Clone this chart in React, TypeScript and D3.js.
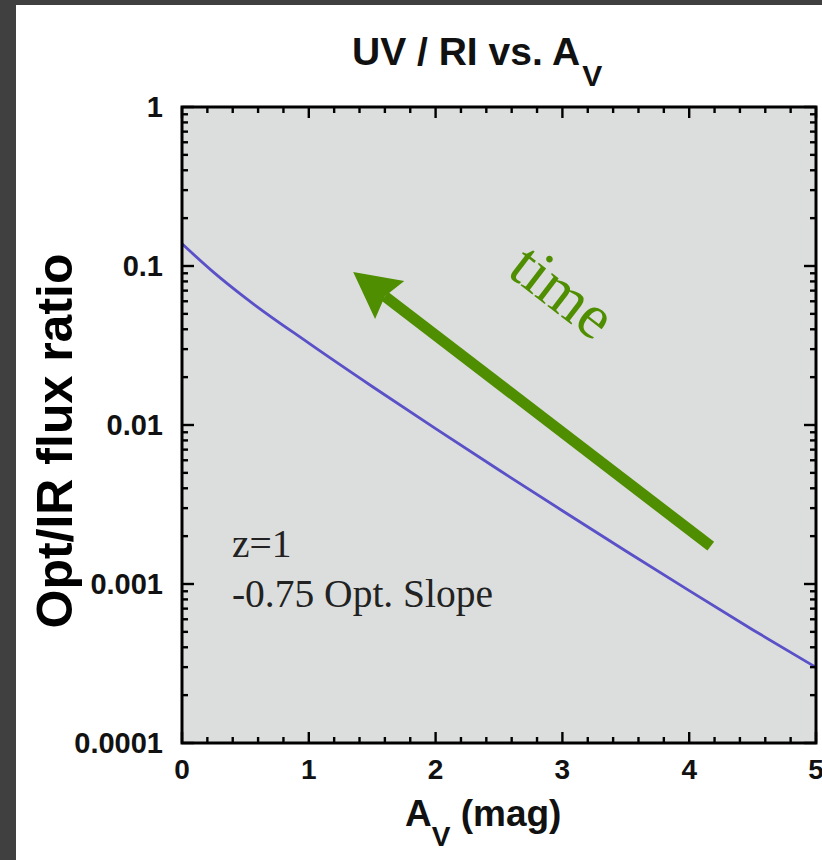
import React from "react";
import * as d3 from "d3";

// Extinction curve: optical/IR flux ratio against A_V (z = 1, -0.75 optical slope)
const avValues = [0, 0.25, 0.5, 1, 1.5, 2, 2.5, 3, 3.5, 4, 4.5, 5];
const fluxRatio = [0.138, 0.0912, 0.063, 0.0327, 0.01746, 0.00948, 0.00521, 0.00289, 0.001614, 0.000908, 0.000516, 0.000299];

const xTickValues = [0, 1, 2, 3, 4, 5];
const yTickValues = [0.0001, 0.001, 0.01, 0.1, 1];
const yTickLabels = ["0.0001", "0.001", "0.01", "0.1", "1"];

// "time" arrow, in data units: from tail to head
const arrowTail = { av: 4.17, ratio: 0.00173 };
const arrowHead = { av: 1.35, ratio: 0.0917 };

const noteLines = ["z=1", "-0.75 Opt. Slope"];

const W = 822;
const H = 860;
const M = { left: 182, top: 107, right: 816, bottom: 743 };

const SANS = "'Liberation Sans', Arial, Helvetica, sans-serif";
const SERIF = "'Liberation Serif', 'Times New Roman', serif";
const GREEN = "#4f8e00";

export default function App() {
  const x = d3.scaleLinear().domain([0, 5]).range([M.left, M.right]);
  const y = d3.scaleLog().domain([0.0001, 1]).range([M.bottom, M.top]);

  const line = d3
    .line<number>()
    .x((_, i) => x(avValues[i]))
    .y((d) => y(d))
    .curve(d3.curveMonotoneX);

  const xMinor = d3.range(0, 5.0001, 0.2).map((v) => +v.toFixed(2));
  const yMinor: number[] = [];
  for (let e = -4; e < 0; e++) {
    for (let m = 2; m <= 9; m++) yMinor.push(m * Math.pow(10, e));
  }

  // arrow geometry
  const tx = x(arrowTail.av), ty = y(arrowTail.ratio);
  const hx = x(arrowHead.av), hy = y(arrowHead.ratio);
  const ang = Math.atan2(hy - ty, hx - tx);
  const ux = Math.cos(ang), uy = Math.sin(ang);
  const px = -uy, py = ux;
  const headLen = 46, headHalf = 24;
  const bx = hx - ux * headLen, by = hy - uy * headLen;
  const notch = 6;
  const headPts = [
    [hx, hy],
    [bx + px * headHalf, by + py * headHalf],
    [bx + ux * notch, by + uy * notch],
    [bx - px * headHalf, by - py * headHalf],
  ];
  const angDeg = (Math.atan2(ty - hy, tx - hx) * 180) / Math.PI;

  return (
    <svg width={W} height={H} style={{ position: "absolute", left: 0, top: 0 }}>
      <rect x={0} y={0} width={W} height={H} fill="#404040" />
      <rect x={16} y={5} width={W - 16} height={H - 5} fill="#ffffff" />
      <rect x={M.left} y={M.top} width={M.right - M.left} height={M.bottom - M.top} fill="#dcdedd" />

      {/* curve */}
      <path d={line(fluxRatio) || ""} fill="none" stroke="#5a50c8" strokeWidth={2.8} />

      {/* x ticks, bottom and top */}
      {xMinor.map((v) => {
        const major = Math.abs(v - Math.round(v)) < 1e-6;
        const len = major ? 11 : 6;
        return (
          <g key={"xt" + v} stroke="#000" strokeWidth={2.4}>
            <line x1={x(v)} x2={x(v)} y1={M.bottom} y2={M.bottom - len} />
            <line x1={x(v)} x2={x(v)} y1={M.top} y2={M.top + len} />
          </g>
        );
      })}
      {/* y ticks, left and right */}
      {yMinor.concat(yTickValues).map((v) => {
        const major = yTickValues.includes(v);
        const len = major ? 12 : 6;
        return (
          <g key={"yt" + v} stroke="#000" strokeWidth={2.4}>
            <line x1={M.left} x2={M.left + len} y1={y(v)} y2={y(v)} />
            <line x1={M.right} x2={M.right - len} y1={y(v)} y2={y(v)} />
          </g>
        );
      })}
      <rect x={M.left} y={M.top} width={M.right - M.left} height={M.bottom - M.top} fill="none" stroke="#000" strokeWidth={3} />

      {/* tick labels */}
      {xTickValues.map((v) => (
        <text key={"xl" + v} x={x(v)} y={779} textAnchor="middle" fontFamily={SANS} fontWeight="bold" fontSize={28} fill="#111">
          {v}
        </text>
      ))}
      {yTickValues.map((v, i) => (
        <text key={"yl" + v} x={163} y={y(v)} dy="0.36em" textAnchor="end" fontFamily={SANS} fontWeight="bold" fontSize={29} fill="#111">
          {yTickLabels[i]}
        </text>
      ))}

      {/* title */}
      <text x={352} y={65} fontFamily={SANS} fontWeight="bold" fontSize={39} fill="#111">
        UV / RI vs. A
        <tspan fontSize={30} dy={21} dx={2}>V</tspan>
      </text>

      {/* axis titles */}
      <text x={405} y={826} fontFamily={SANS} fontWeight="bold" fontSize={37} fill="#111">
        A<tspan fontSize={28} dy={20}>V</tspan>
        <tspan dy={-20}> (mag)</tspan>
      </text>
      <text
        transform={`translate(72, ${(255 + 627) / 2}) rotate(-90)`}
        textAnchor="middle"
        fontFamily={SANS}
        fontWeight="bold"
        fontSize={50}
        fill="#000"
      >
        Opt/IR flux ratio
      </text>

      {/* annotations */}
      {noteLines.map((t, i) => (
        <text key={t} x={x(0.394)} y={557 + i * 50} fontFamily={SERIF} fontSize={39.5} fill="#222">
          {t}
        </text>
      ))}

      <line x1={tx} y1={ty} x2={bx + ux * notch} y2={by + uy * notch} stroke={GREEN} strokeWidth={11} />
      <polygon points={headPts.map((p) => p.join(",")).join(" ")} fill={GREEN} />

      <text
        transform={`translate(550, 308) rotate(${angDeg})`}
        textAnchor="middle"
        fontFamily={SERIF}
        fontSize={63}
        fill={GREEN}
      >
        time
      </text>
    </svg>
  );
}
